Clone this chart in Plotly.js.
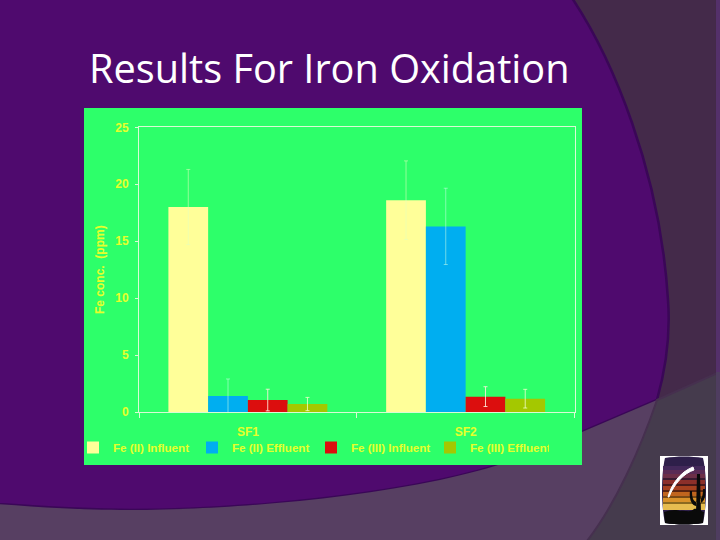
<!DOCTYPE html>
<html><head><meta charset="utf-8">
<script src="https://cdn.plot.ly/plotly-3.0.1.min.js"></script>
<style>html,body{margin:0;padding:0;background:#4f0a6e}#c{width:720px;height:540px}</style>
</head><body><div id="c"></div>
<script>
const categories = ["SF1", "SF2"];
const seriesNames = ["Fe (II) Influent", "Fe (II) Effluent", "Fe (III) Influent", "Fe (III) Effluent"];
const feIIInfluent = [18.0, 18.6];
const feIIEffluent = [1.4, 16.3];
const feIIIInfluent = [1.05, 1.35];
const feIIIEffluent = [0.7, 1.17];
const errFeIIInfluent = [3.3, 3.45];
const errFeIIEffluent = [1.5, 3.35];
const errFeIIIInfluent = [0.95, 0.87];
const errFeIIIEffluent = [0.58, 0.82];
const yTicks = [0, 5, 10, 15, 20, 25];
const barColors = ["#ffff99", "#00aef0", "#dc0e0e", "#a4c800"];
const errColors = ["rgba(225,255,190,0.55)", "rgba(200,255,230,0.55)", "rgba(255,240,220,0.85)", "rgba(240,255,200,0.8)"];

const W = 720, H = 540;
const px = x => x / W, py = y => 1 - y / H;
function P(d) { // pixel path -> paper path
  return d.replace(/(-?[\d.]+),(-?[\d.]+)/g, (m, a, b) => px(+a).toFixed(5) + "," + py(+b).toFixed(5));
}
function sh(d, fill, line, lw) {
  return {type: "path", xref: "paper", yref: "paper", layer: "below", path: P(d), fillcolor: fill,
          line: {color: line || "rgba(0,0,0,0)", width: lw || 0}};
}
function rect(x0, y0, x1, y1, fill) { return sh(`M${x0},${y0} L${x1},${y0} L${x1},${y1} L${x0},${y1} Z`, fill); }

const curveTop = "M572,-2 C612,58 660,170 668,300 C671,340 664,375 657,400";
const curveLow = "C640,450 615,505 587,541";
const stripes = [
  [466, 470, "#43285a"], [470, 474, "#5a2b55"], [474, 478, "#6d2f48"], [478, 480, "#3a1a30"],
  [480, 484, "#8c2f2a"], [484, 486, "#4a1a1a"], [486, 490, "#a5401f"], [490, 492, "#5a2410"],
  [492, 496, "#c0651e"], [496, 498, "#7a4a14"], [498, 502, "#d8922a"], [502, 504, "#8a6a20"],
  [504, 510, "#e6bd50"]
];
const shapes = [
  sh(`${curveTop} L582,432 C540,452 500,467 440,480 C330,503 200,510 130,510 C80,510 40,507 -2,504 L-2,-2 Z`, "#4f0a6e", "#3a0757", 2.5),
  sh(`M-2,504 C40,507 80,510 130,510 C200,510 330,503 440,480 C500,467 540,452 582,432 L657,400 ${curveLow} L-2,541 Z`, "#573f62"),
  sh(`M657,400 L722,371 L722,541 L587,541 C615,505 640,450 657,400 Z`, "#453b4d", "#46304f", 2),
  rect(716, 0, 720, 372, "#54306a"),
  rect(716, 372, 720, 540, "#4f3d60"),
  rect(84, 108, 582, 465, "#2dff6a"),
  // logo
  rect(660, 456, 708, 525, "#ffffff"),
  sh("M665,458 C677,456 691,456 703,458 C707,475 707,505 703,523 C691,525 677,525 665,523 C661,505 661,475 665,458 Z", "#2e1f4a"),
  ...stripes.map(s => rect(663, s[0], 705, s[1], s[2])),
  sh("M665,523 L664,512 C670,510 676,509 680,511 C686,510 690,513 694,509 C698,508 702,512 704,512 L703,523 C691,525 677,525 665,523 Z", "#0a0a0a"),
  sh("M697,474 L700,474 L701,513 L696,513 Z M696,506 C691,505 689,498 690,491 L692,491 C692,497 693,502 697,502 Z M700,503 C704,503 706,496 705,489 L703,489 C703,495 702,499 700,499 Z", "#0a0a0a"),
  sh("M668,497 C671,485 680,472 693,467 L694,470 C684,473 674,484 669,497 Z", "#ffffff", "#ffffff", 1)
];

const allSeries = [feIIInfluent, feIIEffluent, feIIIInfluent, feIIIEffluent];
const allErr = [errFeIIInfluent, errFeIIEffluent, errFeIIIInfluent, errFeIIIEffluent];
const traces = allSeries.map((v, i) => ({
  type: "bar", name: seriesNames[i], x: categories, y: v,
  marker: {color: barColors[i], line: {width: 0}},
  error_y: {type: "data", array: allErr[i], visible: true, color: errColors[i], thickness: 1, width: 2}
}));

const YEL = "#e6ff2a";
const fontB = {family: "Liberation Sans, Arial, sans-serif", color: YEL, size: 12, weight: 700};
const axisLine = "#d9fbd5";
const layout = {
  width: W, height: H, margin: {l: 0, r: 0, t: 0, b: 0}, autosize: false,
  paper_bgcolor: "#442a4a", plot_bgcolor: "rgba(0,0,0,0)",
  barmode: "group", bargap: 0.27, bargroupgap: 0,
  shapes,
  xaxis: {domain: [px(139), px(574.5)], type: "category", showgrid: false, zeroline: false,
          showline: true, mirror: true, linecolor: axisLine, linewidth: 1,
          ticks: "outside", tickson: "boundaries", ticklen: 5, tickcolor: axisLine,
          ticklabelstandoff: 9, tickfont: fontB, automargin: false},
  yaxis: {domain: [py(412), py(127.3)], range: [0, 25], tickvals: yTicks, showgrid: false, zeroline: false,
          showline: true, mirror: true, linecolor: axisLine, linewidth: 1,
          ticks: "outside", ticklen: 3, tickcolor: axisLine, ticklabelstandoff: 4, tickfont: fontB, automargin: false,
          title: {text: "Fe conc.  (ppm)", font: Object.assign({}, fontB, {size: 12}), standoff: 8}},
  legend: {orientation: "h", x: px(73), y: py(433), xanchor: "left", yanchor: "top",
           entrywidth: 74, entrywidthmode: "pixels", font: Object.assign({}, fontB, {size: 11.6}),
           bgcolor: "rgba(0,0,0,0)", traceorder: "normal", itemclick: false},
  annotations: [{xref: "paper", yref: "paper", x: px(87), y: py(68), xanchor: "left", yanchor: "middle",
                 text: "Results For Iron Oxidation", showarrow: false,
                 font: {family: "Open Sans, Noto Sans, sans-serif", size: 39.7, color: "#ffffff"}}]
};
Plotly.newPlot("c", traces, layout, {staticPlot: true, displayModeBar: false});
</script></body></html>
